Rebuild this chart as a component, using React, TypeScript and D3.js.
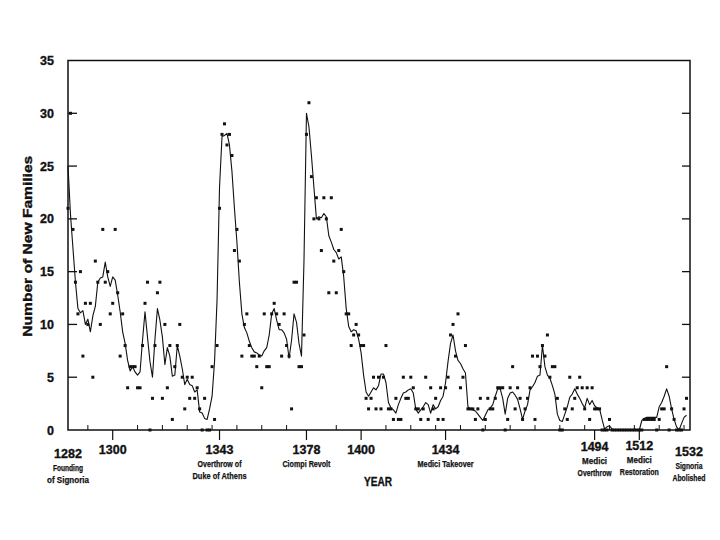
import * as d3 from 'd3';

// yearly counts, starting at 1282
const FIRST_YEAR = 1282;
const newFamilies = [
  21, 30, 19, 14, 11, 15, 7, 12, 10, 12,
  5, 16, 14, 10, 19, 14, 15, 11, 12, 19,
  13, 7, 11, 8, 4, 6, 6, 6, 4, 4,
  8, 12, 14, 0, 3, 8, 13, 14, 3, 10,
  4, 8, 1, 6, 8, 10, 5, 2, 5, 3,
  5, 3, 4, 2, 0, 3, 0, 0, 6, 1,
  8, 21, 28, 29, 27, 28, 26, 17, 19, 16,
  7, 10, 11, 8, 7, 7, 6, 7, 4, 11,
  6, 6, 11, 12, 11, 10, 7, 11, 8, 7,
  2, 14, 14, 6, 6, 9, 28, 31, 24, 20,
  22, 20, 17, 22, 20, 13, 22, 16, 13, 17,
  19, 15, 11, 11, 8, 9, 10, 9, 8, 8,
  3, 2, 3, 5, 2, 5, 2, 5, 8, 2,
  2, 1, 3, 1, 1, 5, 3, 3, 5, 4,
  2, 2, 1, 2, 5, 1, 4, 2, 3, 1,
  4, 1, 4, 5, 9, 10, 7, 11, 4, 5,
  8, 2, 2, 2, 1, 2, 3, 0, 1, 3,
  2, 2, 3, 4, 4, 4, 0, 1, 4, 6,
  2, 4, 3, 1, 2, 3, 4, 7, 1, 7,
  6, 8, 7, 9, 5, 6, 6, 3, 0, 0,
  2, 1, 5, 2, 3, 4, 5, 4, 2, 4,
  1, 4, 2, 2, 2, 0, 0, 0, 1, 0,
  0, 0, 0, 0, 0, 0, 0, 0, 0, 0,
  0, 0, 1, 1, 1, 1, 1, 0, 1, 2,
  2, 6, 0, 2, 1, 0, 0, 0, 2, 3,
];

// smoothed trend line, same years
const smoothed = [
  25, 20.4, 17.2, 14, 11.5, 11.1, 11.3, 10, 10.5, 9.3,
  10.8, 11.7, 14, 14.4, 14.5, 15.9, 14.5, 13.6, 14.5, 14.2,
  12.8, 11.2, 9.3, 8.2, 6.6, 5.6, 6, 5.5, 5.2, 5.5,
  8.5, 11.2, 8.8, 6.5, 5, 8.6, 11.5, 10.4, 8.8, 6.2,
  7.8, 7, 5.1, 5.2, 8, 7, 5.8, 4.3, 4.8, 4.3,
  4.2, 3.6, 3.8, 1.7, 1.6, 1.1, 1, 2, 3.2, 6.5,
  12.3, 23, 27.8, 27.9, 28.1, 27, 24.5, 21, 17.8, 14,
  11, 9.7, 9.2, 8.4, 7.8, 7.4, 7.3, 7.1, 7, 7.5,
  7.8, 9, 11, 11.5, 10.4, 9.5, 9.5, 9.2, 8.6, 6.8,
  8.5, 11, 10.2, 8.2, 7, 16, 30, 28.7, 26, 23,
  20, 20.2, 20.1, 20.5, 20.2, 18.4, 17.8, 17.1, 16.8, 16.2,
  16.4, 14.5, 11.5, 9.8, 9.3, 9.5, 9.4, 8.6, 7.3, 5.2,
  3.6, 3.2, 3.6, 4, 3.8, 4.2, 5.3, 5.3, 4.5, 2.6,
  2.1, 1.9, 1.6, 2.4, 3, 3.5, 3.6, 3.8, 3.9, 3.5,
  2, 1.6, 1.9, 2.2, 2.6, 2.4, 1.6, 2.4, 2, 2.2,
  2.8, 3.2, 4.5, 6.5, 8.2, 9, 7.5, 6.6, 6.3, 5.8,
  5.4, 2.2, 2, 1.9, 1.8, 1.5, 1.2, 0.9, 1.4, 1.9,
  2.1, 2.4, 3.2, 3.9, 3.9, 3, 1.5, 3, 3.5, 3.6,
  3.3, 2.9, 2, 1, 1.8, 2.4, 3.8, 4.1, 4.5, 5.1,
  5.2, 8, 6, 5.2, 4.9, 4.2, 3.4, 1.5, 0.9, 0.8,
  1.5, 2.2, 3.1, 3.4, 3.9, 3.4, 3, 2.5, 2.1, 3,
  2.4, 2.8, 2.3, 2.1, 2, 1, 0.1, 0.3, 0.4, 0.1,
  0, 0, 0, 0, 0, 0, 0, 0, 0, 0,
  0, 0.9, 1.1, 1.2, 1.2, 1.2, 1.2, 1.2, 2.2, 2.6,
  3.2, 3.9, 3.2, 2, 1, 0.3, 0, 0.6, 1.2, 1.4,
];

const yTicks = [0, 5, 10, 15, 20, 25, 30, 35];
const decadeTicks = [1290, 1310, 1320, 1330, 1340, 1350, 1360, 1370, 1390, 1410, 1420, 1430,
  1440, 1450, 1460, 1470, 1480, 1490, 1500, 1510, 1520, 1530];
const eventYears = [1282, 1300, 1343, 1378, 1400, 1434, 1494, 1512, 1532];
const eventNotes: Record<number, string[]> = {
  1282: ['Founding', 'of Signoria'],
  1343: ['Overthrow of', 'Duke of Athens'],
  1378: ['Ciompi Revolt'],
  1434: ['Medici Takeover'],
  1494: ['Medici', 'Overthrow'],
  1512: ['Medici', 'Restoration'],
  1532: ['Signoria', 'Abolished'],
};

// condensed lettering widths seen on the scan
const noteWidth: Record<string, number> = {
  'Founding': 30, 'of Signoria': 42, 'Overthrow of': 44, 'Duke of Athens': 54,
  'Ciompi Revolt': 48, 'Medici Takeover': 56, 'Medici': 25, 'Overthrow': 34,
  'Restoration': 39, 'Signoria': 27, 'Abolished': 33,
};
const labelY: Record<number, number> = { 1282: 453, 1532: 451, 1494: 446, 1512: 445 };

const FONT = "'Liberation Sans', Arial, Helvetica, sans-serif";
const INK = '#111';

export default function App() {
  const left = 68, right = 690, top = 60.5, bottom = 430;
  const x = d3.scaleLinear().domain([1282, 1532]).range([left, 689]);
  const y = d3.scaleLinear().domain([0, 35]).range([bottom, top]);

  const dots = newFamilies.map((v, i) => ({ year: FIRST_YEAR + i, v }));
  const trend = smoothed.map((v, i) => ({ year: FIRST_YEAR + i, v }));
  const line = d3.line<{ year: number; v: number }>()
    .x(d => x(d.year))
    .y(d => y(d.v));

  // scanned lettering is heavy, so give text a thin outline
  const heavy = { stroke: INK, strokeWidth: 0.35 };

  return (
    <svg width={720} height={540} style={{ position: 'absolute', left: 0, top: 0, background: '#fff' }}
      fontFamily={FONT}>
      {/* frame */}
      <rect x={left} y={top} width={right - left} height={bottom - top}
        fill="none" stroke={INK} strokeWidth={1.5} />

      {/* y ticks, both sides */}
      {yTicks.filter(t => t > 0 && t < 35).map(t => (
        <g key={t}>
          <line x1={left} x2={left + 9} y1={y(t)} y2={y(t)} stroke={INK} strokeWidth={1.3} />
          <line x1={right - 8} x2={right} y1={y(t)} y2={y(t)} stroke={INK} strokeWidth={1.3} />
        </g>
      ))}
      {yTicks.map(t => (
        <text key={t} x={54} y={y(t)} dy="0.36em" textAnchor="end" fontSize={12.5}
          fontWeight="bold" fill={INK} {...heavy}>{t}</text>
      ))}
      <text transform={`translate(27,${(top + bottom) / 2 + 1}) rotate(-90)`} textAnchor="middle"
        dy="0.36em" fontSize={13} fontWeight="bold" fill={INK} textLength={181}
        lengthAdjust="spacingAndGlyphs" {...heavy}>Number of New Families</text>

      {/* x ticks */}
      {decadeTicks.map(t => (
        <line key={t} x1={x(t)} x2={x(t)} y1={bottom} y2={bottom - 5} stroke={INK} strokeWidth={1} />
      ))}
      {eventYears.filter(t => t !== 1282 && t !== 1532).map(t => (
        <line key={t} x1={x(t)} x2={x(t)} y1={bottom} y2={bottom + 10} stroke={INK} strokeWidth={1.2} />
      ))}
      {eventYears.map(t => {
        const ly = labelY[t] ?? 449;
        const notes = eventNotes[t] || [];
        return (
          <g key={t} fill={INK} fontWeight="bold" textAnchor="middle">
            <text x={x(t)} y={ly} dy="0.36em" fontSize={12.5} {...heavy}>{t}</text>
            {notes.map((n, i) => (
              <text key={n} x={x(t)} y={ly + 15 + i * 11.5} dy="0.36em" fontSize={9}
                textLength={noteWidth[n]} lengthAdjust="spacingAndGlyphs"
                stroke={INK} strokeWidth={0.25}>{n}</text>
            ))}
          </g>
        );
      })}
      <text x={378} y={481} dy="0.36em" textAnchor="middle" fontSize={13} fontWeight="bold"
        fill={INK} textLength={28} lengthAdjust="spacingAndGlyphs" {...heavy}>YEAR</text>

      {/* trend line */}
      <path d={line(trend) || ''} fill="none" stroke={INK} strokeWidth={1.1} strokeLinejoin="round" />

      {/* yearly values */}
      {dots.map(d => (
        <rect key={d.year} x={x(d.year) - 1.5} y={y(d.v) - 1.5} width={3} height={3} fill={INK} />
      ))}
    </svg>
  );
}
